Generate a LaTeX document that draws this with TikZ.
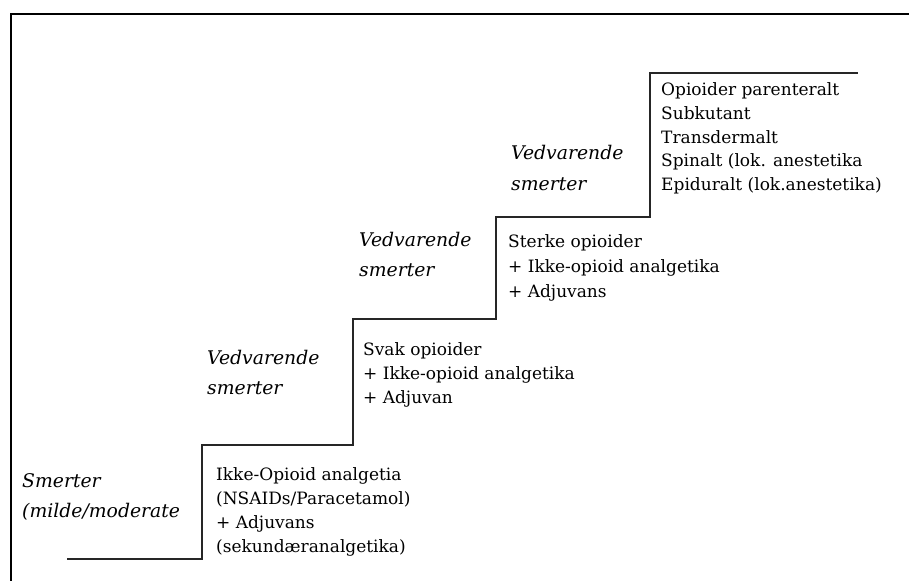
\documentclass[tikz,border=0pt]{standalone}
\usepackage{fontspec}
\setmainfont{DejaVu Serif}
\begin{document}
\begin{tikzpicture}[x=1pt,y=-1pt,
  frameline/.style={line width=2pt,black},
  stairline/.style={line width=1.2pt,black!85},
  drug/.style={anchor=base west,inner sep=0pt,font=\fontsize{17}{20}\selectfont},
  pain/.style={anchor=base west,inner sep=0pt,font=\fontsize{18.8}{22}\selectfont\itshape}]
\useasboundingbox (0,0) rectangle (909,581);
% frame
\coordinate (fTR) at (909,14);
\coordinate (fTL) at (11,14);
\coordinate (fBL) at (11,581);
\draw[frameline] (fTR) -- (fTL) -- (fBL);
% staircase
\coordinate (s0) at (67,559);
\coordinate (s1) at (202,559);
\coordinate (s2) at (202,445);
\coordinate (s3) at (353,445);
\coordinate (s4) at (353,319);
\coordinate (s5) at (496,319);
\coordinate (s6) at (496,217);
\coordinate (s7) at (650,217);
\coordinate (s8) at (650,73);
\coordinate (s9) at (858,73);
\draw[stairline] (s0) -- (s1) -- (s2) -- (s3) -- (s4) -- (s5) -- (s6) -- (s7) -- (s8) -- (s9);
% step 1
\node[pain] (p1a) at (22,487) {Smerter};
\node[pain] (p1b) at (22,517) {(milde/moderate};
\node[drug] (d1a) at (216,480) {Ikke-Opioid analgetia};
\node[drug] (d1b) at (216,504) {(NSAIDs/Paracetamol)};
\node[drug] (d1c) at (216,528) {+ Adjuvans};
\node[drug] (d1d) at (216,552) {(sekundæranalgetika)};
% step 2
\node[pain] (p2a) at (207,364) {Vedvarende};
\node[pain] (p2b) at (207,394) {smerter};
\node[drug] (d2a) at (363,355) {Svak opioider};
\node[drug] (d2b) at (363,379) {+ Ikke-opioid analgetika};
\node[drug] (d2c) at (363,403) {+ Adjuvan};
% step 3
\node[pain] (p3a) at (359,246) {Vedvarende};
\node[pain] (p3b) at (359,276) {smerter};
\node[drug] (d3a) at (508,247) {Sterke opioider};
\node[drug] (d3b) at (508,272) {+ Ikke-opioid analgetika};
\node[drug] (d3c) at (508,297) {+ Adjuvans};
% step 4
\node[pain] (p4a) at (511,159) {Vedvarende};
\node[pain] (p4b) at (511,190) {smerter};
\node[drug] (d4a) at (661,95) {Opioider parenteralt};
\node[drug] (d4b) at (661,119) {Subkutant};
\node[drug] (d4c) at (661,143) {Transdermalt};
\node[drug] (d4d) at (661,166) {Spinalt (lok. anestetika};
\node[drug] (d4e) at (661,190) {Epiduralt (lok.anestetika)};
\end{tikzpicture}
\end{document}
